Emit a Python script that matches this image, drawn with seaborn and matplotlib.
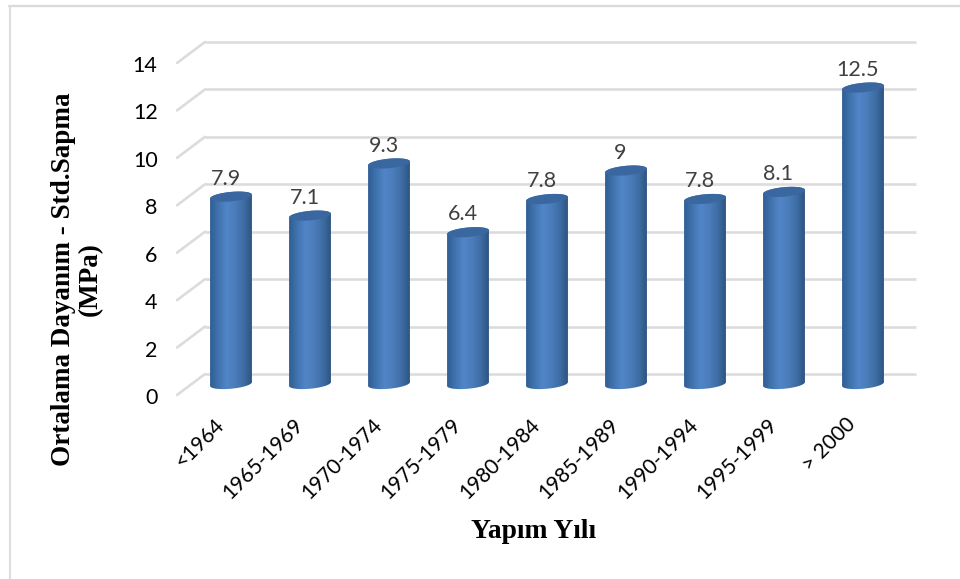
#!/usr/bin/env python3
import numpy as np
import pandas as pd
import seaborn as sns
import matplotlib
import matplotlib.pyplot as plt
from matplotlib.colors import LinearSegmentedColormap
from matplotlib.patches import PathPatch, Polygon
from matplotlib.path import Path
from matplotlib.transforms import ScaledTranslation

matplotlib.use("Agg")

# ─── Data ───────────────────────────────────────────────────────────────────
YEARS = ["<1964", "1965-1969", "1970-1974", "1975-1979", "1980-1984",
         "1985-1989", "1990-1994", "1995-1999", "> 2000"]
VALUES = [7.9, 7.1, 9.3, 6.4, 7.8, 9.0, 7.8, 8.1, 12.5]
VALUE_LABELS = ["7.9", "7.1", "9.3", "6.4", "7.8", "9", "7.8", "8.1", "12.5"]
Y_TICKS = [0, 2, 4, 6, 8, 10, 12, 14]

# ─── Style ──────────────────────────────────────────────────────────────────
W, H = 960, 579
DPI = 100
GRID_COLOR = "#dcdcdc"
TOP_COLOR = "#3a679f"
LABEL_COLOR = "#404040"
SHADE = LinearSegmentedColormap.from_list(
    "cyl", ["#305d94", "#4074ae", "#5285c8", "#4b7dbb", "#3f6ea6", "#2e5480"])

sns.set_theme(style="white")
plt.rcParams["font.family"] = ["Lato", "DejaVu Sans"]

fig = plt.figure(figsize=(W / DPI, H / DPI), dpi=DPI)
# front plane of the fake 3D box, in pixels: x 177-888, y 63-395
ax = fig.add_axes([177 / W, 1 - 395 / H, (888 - 177) / W, (395 - 63) / H])
ax.patch.set_alpha(0)

df = pd.DataFrame({"Year": YEARS, "Value": VALUES})
sns.barplot(data=df, x="Year", y="Value", width=0.53, color="#4a7cbd", ax=ax,
            errorbar=None, saturation=1)
ax.set_xlim(-0.5, len(YEARS) - 0.5)
ax.set_ylim(0, 14)
sns.despine(ax=ax, left=True, bottom=True)


def px_shift(dx, dy):
    return ax.transData + ScaledTranslation(dx / DPI, dy / DPI, fig.dpi_scale_trans)


# back wall gridlines plus the slanted side wall
back = px_shift(28, 21)
front = ax.transData
for tick in Y_TICKS:
    ax.plot([-0.5, 8.5], [tick, tick], color=GRID_COLOR, lw=1.9, transform=back,
            clip_on=False, zorder=1, solid_capstyle="butt")
    p0 = front.transform((-0.5, tick))
    p1 = back.transform((-0.5, tick))
    fig.add_artist(plt.Line2D([p0[0] / W, p1[0] / W], [p0[1] / H, p1[1] / H],
                              color=GRID_COLOR, lw=1.9, zorder=0))

# turn each seaborn bar into a shaded cylinder, sitting mid-depth
mid = px_shift(14.5, 11)
ELL_H = 0.2    # half height of the end ellipses, data units
TILT = 0.08    # ellipse tilt, data units
theta = np.linspace(0, 2 * np.pi, 80)
grad = np.linspace(0, 1, 128).reshape(1, -1)
for bar, text in zip(list(ax.patches), VALUE_LABELS):
    x0, w, top = bar.get_x(), bar.get_width(), bar.get_height()
    cx, a = x0 + w / 2, w / 2
    bar.set_visible(False)

    upper = theta[theta <= np.pi]
    lower = theta[theta >= np.pi]
    body = np.vstack([
        np.c_[cx + a * np.cos(upper), top + ELL_H * np.sin(upper) + TILT * np.cos(upper)],
        np.c_[cx + a * np.cos(lower), ELL_H * np.sin(lower) + TILT * np.cos(lower)],
    ])
    clip = PathPatch(Path(np.vstack([body, body[:1]])), transform=mid, fc="none", ec="none")
    ax.add_patch(clip)
    img = ax.imshow(grad, extent=(x0, x0 + w, -0.5, top + 0.5), cmap=SHADE, aspect="auto",
                    transform=mid, zorder=3, interpolation="bilinear")
    img.set_clip_path(clip)

    cap = np.c_[cx + a * np.cos(theta), top + ELL_H * np.sin(theta) + TILT * np.cos(theta)]
    ax.add_patch(Polygon(cap, closed=True, fc=TOP_COLOR, ec="none", transform=mid, zorder=4))
    ax.text(cx, top + 0.33, text, transform=px_shift(9, 11), ha="center", va="bottom",
            fontsize=15.5, color=LABEL_COLOR, zorder=5)

ax.set_xlim(-0.5, len(YEARS) - 0.5)
ax.set_ylim(0, 14)

ax.set_yticks(Y_TICKS)
ax.set_yticklabels([str(t) for t in Y_TICKS], fontsize=15.5, color="black")
ax.tick_params(axis="y", length=0, pad=14)
for lab in ax.get_yticklabels():
    lab.set_transform(lab.get_transform() + ScaledTranslation(0, -1 / DPI, fig.dpi_scale_trans))
ax.set_xticks(range(len(YEARS)))
ax.set_xticklabels(YEARS, rotation=45, ha="right", rotation_mode="anchor",
                   fontsize=15, color="black")
ax.tick_params(axis="x", length=0, pad=14)
for lab in ax.get_xticklabels():
    lab.set_transform(lab.get_transform() + ScaledTranslation(-3 / DPI, 0, fig.dpi_scale_trans))

ax.set_xlabel("")
ax.set_ylabel("")
serif = {"family": "Liberation Serif", "weight": "bold", "color": "black"}
fig.text(77 / W, 1 - 279 / H, "Ortalama Dayanım - Std.Sapma\n(MPa)", rotation=90,
         ha="center", va="center", ma="center", fontsize=19.5, linespacing=1.1, **serif)
fig.text(534 / W, 1 - 531 / H, "Yapım Yılı", ha="center", va="center", fontsize=19.8, **serif)

# outer frame, only top and left show
fig.add_artist(plt.Line2D([9 / W, 1], [1 - 6 / H, 1 - 6 / H], color="#d9d9d9", lw=1.6))
fig.add_artist(plt.Line2D([9.5 / W, 9.5 / W], [0, 1 - 6 / H], color="#dedede", lw=1.6))

fig.savefig("out.png", dpi=DPI)
plt.close(fig)
